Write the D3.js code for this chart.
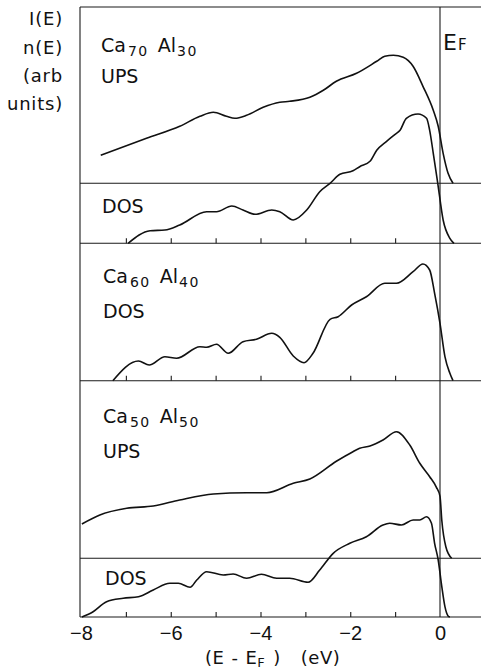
<!DOCTYPE html>
<html>
<head>
<meta charset="utf-8">
<script src="https://cdn.jsdelivr.net/npm/d3@7"></script>
<style>
  html, body { margin: 0; padding: 0; background: #fff; }
  svg { display: block; }
  text { font-family: "DejaVu Sans", sans-serif; fill: #111; }
</style>
</head>
<body>
<svg id="chart" width="481" height="669"></svg>
<script>
// Energy relative to the Fermi level (eV) and intensity (arb. units) for each trace
const ca70UpsE = [-7.56, -6.54, -5.80, -5.35, -5.05, -4.76, -4.57, -4.31, -3.94, -3.57, -3.35, -2.90, -2.60, -2.31, -1.86, -1.41, -1.23, -1.04, -0.82, -0.60, -0.38, -0.15, -0.04, 0.07, 0.18, 0.29];
const ca70UpsI = [28, 45, 57, 67, 71, 67, 65, 68, 76, 81, 82, 86, 93, 102, 110, 122, 127, 128, 126, 117, 97, 73, 57, 30, 10, 0];

const ca70DosE = [-6.95, -6.46, -6.13, -5.80, -5.20, -4.98, -4.64, -4.39, -4.12, -3.75, -3.57, -3.27, -2.97, -2.68, -2.45, -2.23, -1.94, -1.79, -1.56, -1.41, -1.19, -1.00, -0.89, -0.75, -0.49, -0.30, -0.23, -0.15, -0.05, 0.07, 0.22, 0.31];
const ca70DosI = [0, 12.6, 13.3, 18.3, 31.6, 31.6, 37.3, 33.3, 29, 33.3, 31.6, 23.3, 33.3, 51.6, 60, 69, 72.5, 76.6, 82, 93, 102, 109, 113, 125, 129.3, 125, 113, 90, 60, 23.3, 5, 0];

const ca60DosE = [-7.29, -6.72, -6.48, -6.13, -5.87, -5.35, -5.20, -4.98, -4.72, -4.39, -4.09, -3.75, -3.57, -3.27, -3.03, -2.83, -2.45, -2.27, -1.97, -1.64, -1.23, -0.97, -0.60, -0.38, -0.23, -0.12, 0, 0.11, 0.22, 0.29];
const ca60DosI = [0, 19.7, 15.7, 24, 22.4, 34, 33.4, 36.4, 27.4, 39, 41.4, 47.4, 43.4, 24.7, 18, 27.4, 61.4, 64, 75.7, 84, 97.4, 97.4, 109, 116.7, 110.7, 87.4, 57.4, 24, 7.4, 0];

const ca50UpsE = [-7.98, -7.58, -6.98, -6.39, -5.80, -5.05, -4.31, -3.86, -3.27, -2.90, -2.31, -1.94, -1.79, -1.56, -1.27, -0.97, -0.67, -0.45, -0.23, -0.08, 0, 0.04, 0.13, 0.26];
const ca50UpsI = [34.3, 43.3, 50, 52.3, 58.3, 64.3, 65.6, 65.6, 75, 79.3, 97, 106.6, 110, 112.3, 118.3, 126.6, 113, 95, 81.6, 71, 62, 38, 11.6, 0];

const ca50DosE = [-7.98, -7.73, -7.43, -7.06, -6.72, -6.39, -6.02, -5.83, -5.57, -5.42, -5.20, -4.83, -4.61, -4.31, -3.98, -3.64, -3.35, -2.94, -2.68, -2.38, -2.01, -1.64, -1.27, -1.12, -0.86, -0.60, -0.45, -0.30, -0.19, -0.12, -0.04, 0.04, 0.11, 0.18, 0.22];
const ca50DosI = [0, 5.3, 15.3, 18.7, 20.3, 27, 33.7, 33.7, 29.7, 37, 45.3, 42, 43, 38.7, 42.7, 38.7, 38.7, 34.7, 47, 63.7, 73.7, 80.3, 92, 93.7, 92, 97, 97, 100.3, 93.7, 73.7, 57, 30.3, 10.3, 1, 0];

// Axis ticks
const majorTicks = [-8, -6, -4, -2, 0];
const minorTicks = [-7, -6, -5, -4, -3, -2, -1];

const svg = d3.select("#chart");
const W = 481;
const frameLeft = 80, frameTop = 7, frameBottom = 617;

const x = d3.scaleLinear().domain([-8, 0]).range([81, 440]);

// One intensity scale per trace, anchored on that trace's baseline
const baseline = { ca70Ups: 183.3, ca70Dos: 243.3, ca60Dos: 380.7, ca50Ups: 558.3, ca50Dos: 617 };
const yFor = b => d3.scaleLinear().domain([0, 100]).range([b, b - 100]);

const ink = "#1a1a1a";

// Frame: top edge, left edge, panel baselines
svg.append("line").attr("x1", frameLeft).attr("x2", W).attr("y1", frameTop).attr("y2", frameTop)
  .attr("stroke", ink).attr("stroke-width", 1.1);
svg.append("line").attr("x1", frameLeft).attr("x2", frameLeft).attr("y1", frameTop).attr("y2", frameBottom)
  .attr("stroke", ink).attr("stroke-width", 1.1);
Object.values(baseline).forEach(b => {
  svg.append("line").attr("x1", frameLeft).attr("x2", W).attr("y1", b).attr("y2", b)
    .attr("stroke", ink).attr("stroke-width", 1.1);
});

// Fermi level
svg.append("line").attr("x1", x(0)).attr("x2", x(0)).attr("y1", frameTop).attr("y2", frameBottom)
  .attr("stroke", ink).attr("stroke-width", 1.1);

// Inward ticks on the DOS baselines that close each panel
[baseline.ca70Dos, baseline.ca60Dos, baseline.ca50Dos].forEach(b => {
  const g = svg.append("g").attr("transform", `translate(0,${b})`)
    .call(d3.axisTop(x).tickValues(minorTicks).tickSize(5).tickFormat(""));
  g.select(".domain").remove();
  g.selectAll("line").attr("stroke", ink).attr("stroke-width", 1.1);
});

// Bottom tick labels
const gx = svg.append("g").attr("transform", `translate(0,${frameBottom})`)
  .call(d3.axisBottom(x).tickValues(majorTicks).tickSize(0));
gx.select(".domain").remove();
gx.selectAll("text")
  .attr("y", 23).attr("dy", 0)
  .style("font-family", "'Liberation Sans', Arial, sans-serif")
  .style("font-size", "20px")
  .attr("fill", "#111");

// Traces
const traces = [
  [ca70UpsE, ca70UpsI, baseline.ca70Ups],
  [ca70DosE, ca70DosI, baseline.ca70Dos],
  [ca60DosE, ca60DosI, baseline.ca60Dos],
  [ca50UpsE, ca50UpsI, baseline.ca50Ups],
  [ca50DosE, ca50DosI, baseline.ca50Dos]
];
traces.forEach(([es, is, b]) => {
  const y = yFor(b);
  const line = d3.line().x(d => x(d[0])).y(d => y(d[1])).curve(d3.curveMonotoneX);
  svg.append("path")
    .datum(es.map((e, i) => [e, is[i]]))
    .attr("d", line)
    .attr("fill", "none")
    .attr("stroke", "#111")
    .attr("stroke-width", 1.6)
    .attr("stroke-linejoin", "round");
});

// Composition labels: element symbols with subscripted fractions
function formula(xPos, yPos, el1, n1, el2, n2) {
  const t = svg.append("text").attr("x", xPos).attr("y", yPos).style("font-size", "19px");
  t.append("tspan").text(el1);
  t.append("tspan").text(n1).attr("dx", 2).attr("dy", 4)
    .style("font-size", "14px").style("letter-spacing", "1.5px");
  t.append("tspan").text(el2).attr("dx", 9).attr("dy", -4);
  t.append("tspan").text(n2).attr("dx", 1).attr("dy", 4)
    .style("font-size", "14px").style("letter-spacing", "1.5px");
}
function label(xPos, yPos, s) {
  svg.append("text").attr("x", xPos).attr("y", yPos).style("font-size", "19px").text(s);
}

formula(101, 52, "Ca", "70", "Al", "30");
label(101, 83, "UPS");
label(102, 213, "DOS");

formula(103, 283, "Ca", "60", "Al", "40");
label(103, 318, "DOS");

formula(103, 423, "Ca", "50", "Al", "50");
label(103, 458, "UPS");
label(105, 585, "DOS");

// Fermi level label
const ef = svg.append("text").attr("x", 443).attr("y", 50).style("font-size", "22px");
ef.append("tspan").text("E");
ef.append("tspan").text("F").style("font-size", "15px").attr("dx", 1);

// Ordinate caption
const yCap = ["I(E)", "n(E)", "(arb", "units)"];
const capY = [25, 54, 82, 110];
svg.append("g").selectAll("text").data(yCap).join("text")
  .attr("x", 63).attr("y", (d, i) => capY[i])
  .attr("text-anchor", "end")
  .style("font-size", "18px")
  .style("letter-spacing", "0.8px")
  .text(d => d);

// Abscissa caption
const xl = svg.append("text").attr("x", 205).attr("y", 664)
  .style("font-size", "18px").style("letter-spacing", "0.5px");
xl.append("tspan").text("(E");
xl.append("tspan").text("-").attr("dx", 7);
xl.append("tspan").text("E").attr("dx", 7);
xl.append("tspan").text("F").style("font-size", "13px").attr("dy", 3);
xl.append("tspan").text(")").attr("dx", 8).attr("dy", -3);
xl.append("tspan").text("(eV)").attr("dx", 20);
</script>
</body>
</html>
